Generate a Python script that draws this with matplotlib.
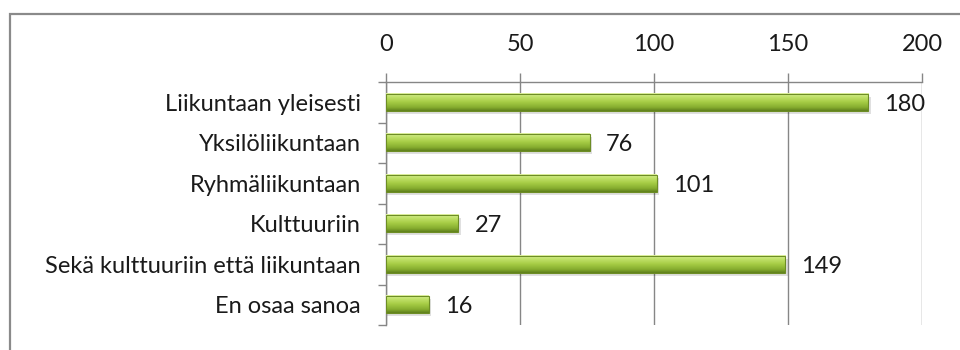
import matplotlib.pyplot as plt
import numpy as np
from matplotlib.colors import LinearSegmentedColormap
from matplotlib.patches import Rectangle

# Vastaukset ja lukumäärät
luokat = ['Liikuntaan yleisesti', 'Yksilöliikuntaan', 'Ryhmäliikuntaan',
          'Kulttuuriin', 'Sekä kulttuuriin että liikuntaan', 'En osaa sanoa']
arvot = [180, 76, 101, 27, 149, 16]
xtiks = [0, 50, 100, 150, 200]

plt.rcParams['font.family'] = ['Lato', 'DejaVu Sans']
koko = 17

fig = plt.figure(figsize=(9.6, 3.5), dpi=100)
ax = fig.add_axes([386 / 960, 1 - 325 / 350, 536 / 960, 243 / 350])

# kehys koko kuvion ympärillä
fig.patches.append(Rectangle((10 / 960, -0.1), 1.2, 0.96 + 0.1, transform=fig.transFigure,
                             fill=False, edgecolor='#8a8a8a', linewidth=1.6))

# vihreä liukuväri palkeille (ylhäältä alas)
vihrea = LinearSegmentedColormap.from_list('vihrea', [
    (0.0, '#e3f5a6'), (0.18, '#c4e46e'), (0.5, '#a6cc45'),
    (0.8, '#86ad2f'), (1.0, '#5f7f1c')])
grad = np.linspace(0, 1, 64).reshape(-1, 1)

y = np.arange(len(luokat))
h = 0.42
for yi, v in zip(y, arvot):
    # varjo
    ax.add_patch(Rectangle((0.3, yi - h / 2 + 0.08), v + 0.6, h, facecolor='#000000',
                           alpha=0.12, edgecolor='none', zorder=2))
    ax.imshow(grad, cmap=vihrea, aspect='auto', extent=[0, v, yi + h / 2, yi - h / 2],
              zorder=3, interpolation='bilinear')
    ax.add_patch(Rectangle((0, yi - h / 2), v, h, fill=False, edgecolor='#6d8d25',
                           linewidth=0.8, zorder=4))
    ax.text(v + 6, yi + 0.05, str(v), va='center', ha='left', fontsize=koko, color='#1a1a1a')

ax.set_xlim(0, 200)
ax.set_ylim(len(luokat) - 0.5, -0.5)
ax.set_aspect('auto')

ax.xaxis.tick_top()
ax.set_xticks(xtiks)
ax.set_xticklabels([str(t) for t in xtiks], fontsize=koko, color='#1a1a1a')
ax.tick_params(axis='x', length=6.5, width=1, color='#868686', pad=13)
ax.grid(axis='x', color='#868686', linewidth=1)
ax.set_axisbelow(True)

ax.set_yticks(y)
ax.set_yticklabels(luokat, fontsize=koko, color='#1a1a1a')
ax.set_yticks(np.arange(len(luokat) + 1) - 0.5, minor=True)
ax.tick_params(axis='y', which='major', length=0, pad=18)
ax.tick_params(axis='y', which='minor', length=6, width=1, color='#868686')

for s in ['right', 'bottom']:
    ax.spines[s].set_visible(False)
for s in ['top', 'left']:
    ax.spines[s].set_color('#868686')
    ax.spines[s].set_linewidth(1)

fig.savefig('out.png', dpi=100)
